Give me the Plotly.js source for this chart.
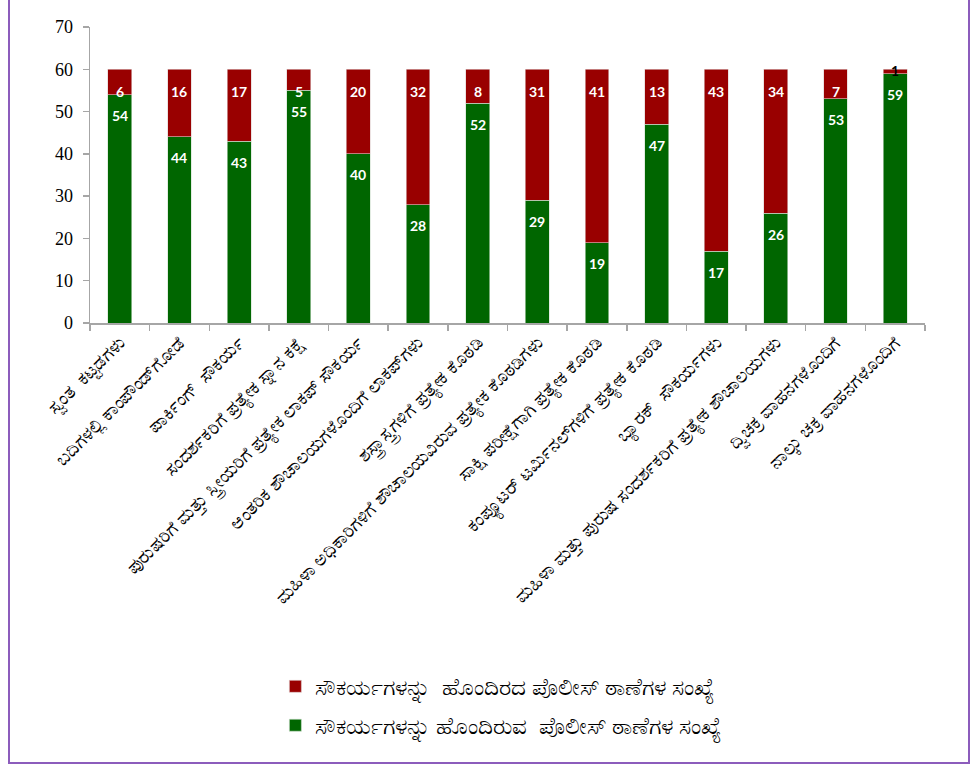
<!DOCTYPE html>
<html>
<head>
<meta charset="utf-8">
<script src="https://cdn.plot.ly/plotly-3.0.1.min.js"></script>
<style>
  html, body { margin: 0; padding: 0; background: #ffffff; }
  #wrap { position: relative; width: 976px; height: 765px; }
  #chart { position: absolute; left: 0; top: 0; width: 976px; height: 765px; }
  #frame { position: absolute; left: 8px; top: -3px; width: 958px; height: 763px;
           border: 2px solid #8c5cbc; pointer-events: none; }
</style>
</head>
<body>
<div id="wrap">
  <div id="chart"></div>
  <div id="frame"></div>
</div>
<script>
const categories = [
  "ಸ್ವಂತ  ಕಟ್ಟಡಗಳು",
  "ಬದಿಗಳಲ್ಲಿ ಕಾಂಪೌಂಡ್‌ಗೋಡೆ",
  "ಪಾರ್ಕಿಂಗ್  ಸೌಕರ್ಯ",
  "ಸಂದರ್ಶಕರಿಗೆ ಪ್ರತ್ಯೇಕ ಸ್ನಾನ ಕಕ್ಷೆ",
  "ಪುರುಷರಿಗೆ ಮತ್ತು ಸ್ತ್ರೀಯರಿಗೆ ಪ್ರತ್ಯೇಕ ಲಾಕಪ್ ಸೌಕರ್ಯ",
  "ಆಂತರಿಕ ಶೌಚಾಲಯಗಳೊಂದಿಗೆ ಲಾಕಪ್‌ಗಳು",
  "ಶಸ್ತ್ರಾಸ್ತ್ರಗಳಿಗೆ ಪ್ರತ್ಯೇಕ ಕೊಠಡಿ",
  "ಮಹಿಳಾ ಅಧಿಕಾರಿಗಳಿಗೆ ಶೌಚಾಲಯವಿರುವ ಪ್ರತ್ಯೇಕ ಕೊಠಡಿಗಳು",
  "ಸಾಕ್ಷಿ ಪರೀಕ್ಷೆಗಾಗಿ ಪ್ರತ್ಯೇಕ ಕೊಠಡಿ",
  "ಕಂಪ್ಯೂಟರ್ ಟರ್ಮಿನಲ್‌ಗಳಿಗೆ ಪ್ರತ್ಯೇಕ ಕೊಠಡಿ",
  "ಬ್ಯಾರಕ್  ಸೌಕರ್ಯಗಳು",
  "ಮಹಿಳಾ ಮತ್ತು ಪುರುಷ ಸಂದರ್ಶಕರಿಗೆ ಪ್ರತ್ಯೇಕ ಶೌಚಾಲಯಗಳು",
  "ದ್ವಿಚಕ್ರ ವಾಹನಗಳೊಂದಿಗೆ",
  "ನಾಲ್ಕು ಚಕ್ರ ವಾಹನಗಳೊಂದಿಗೆ"
];
const withFacility = [54, 44, 43, 55, 40, 28, 52, 29, 19, 47, 17, 26, 53, 59];
const withoutFacility = [6, 16, 17, 5, 20, 32, 8, 31, 41, 13, 43, 34, 7, 1];
const nameWith = "ಸೌಕರ್ಯಗಳನ್ನು ಹೊಂದಿರುವ  ಪೊಲೀಸ್ ಠಾಣೆಗಳ ಸಂಖ್ಯೆ";
const nameWithout = "ಸೌಕರ್ಯಗಳನ್ನು  ಹೊಂದಿರದ ಪೊಲೀಸ್ ಠಾಣೆಗಳ ಸಂಖ್ಯೆ";
const yTicks = [0, 10, 20, 30, 40, 50, 60, 70];

const GREEN = "#006600";
const RED = "#990000";
const labelFont = "Lato, 'Open Sans', sans-serif";

const traces = [
  { type: "bar", x: categories, y: withFacility, name: nameWith, legendrank: 2, legendgroup: "g",
    marker: { color: GREEN, line: { color: "#cfe0cf", width: 0.6 } }, hoverinfo: "y" },
  { type: "bar", x: categories, y: withoutFacility, name: nameWithout, legendrank: 1, legendgroup: "r",
    marker: { color: RED, line: { color: "#e0cfcf", width: 0.6 } }, hoverinfo: "y" }
];

const annotations = [];
categories.forEach((c, i) => {
  annotations.push({ x: c, y: withFacility[i], xref: "x", yref: "y", text: String(withFacility[i]),
    showarrow: false, yanchor: "middle", yshift: -21,
    font: { family: labelFont, size: 14, color: "#ffffff", weight: "bold" } });
  const total = withFacility[i] + withoutFacility[i];
  const small = withoutFacility[i] < 3;
  annotations.push({ x: c, y: total, xref: "x", yref: "y", text: String(withoutFacility[i]),
    showarrow: false, yanchor: "middle", yshift: small ? -1 : -22,
    font: { family: labelFont, size: 14, color: small ? "#000000" : "#ffffff", weight: "bold" } });
});

const layout = {
  width: 976, height: 765,
  margin: { l: 90, r: 51, t: 27, b: 442 },
  paper_bgcolor: "#ffffff", plot_bgcolor: "#ffffff",
  barmode: "stack", bargap: 0.6,
  showlegend: true,
  legend: { x: 0.222, xanchor: "left", y: -1.155, yanchor: "top", orientation: "v",
    traceorder: "grouped", tracegroupgap: 6, itemwidth: 30,
    font: { family: "'Noto Sans', sans-serif", size: 23, color: "#000000" } },
  xaxis: { type: "category", range: [-0.5, 13.5], showline: true, linecolor: "#a6a6a6", linewidth: 1.5,
    ticks: "outside", tickson: "boundaries", ticklen: 6, tickcolor: "#a6a6a6", tickwidth: 1.5,
    tickangle: -45, showgrid: false, zeroline: false, automargin: false,
    tickfont: { family: "'Noto Sans', sans-serif", size: 18.5, color: "#000000" } },
  yaxis: { range: [0, 70], tickvals: yTicks, ticktext: yTicks.map(String), showline: true,
    linecolor: "#a6a6a6", linewidth: 1.5, ticks: "outside", ticklen: 6, tickcolor: "#a6a6a6", tickwidth: 1.5,
    showgrid: false, zeroline: false, ticklabelstandoff: 6,
    tickfont: { family: "'Liberation Serif', 'Times New Roman', serif", size: 18, color: "#000000" } },
  annotations: annotations
};

Plotly.newPlot("chart", traces, layout, { displayModeBar: false, staticPlot: true });
</script>
</body>
</html>
